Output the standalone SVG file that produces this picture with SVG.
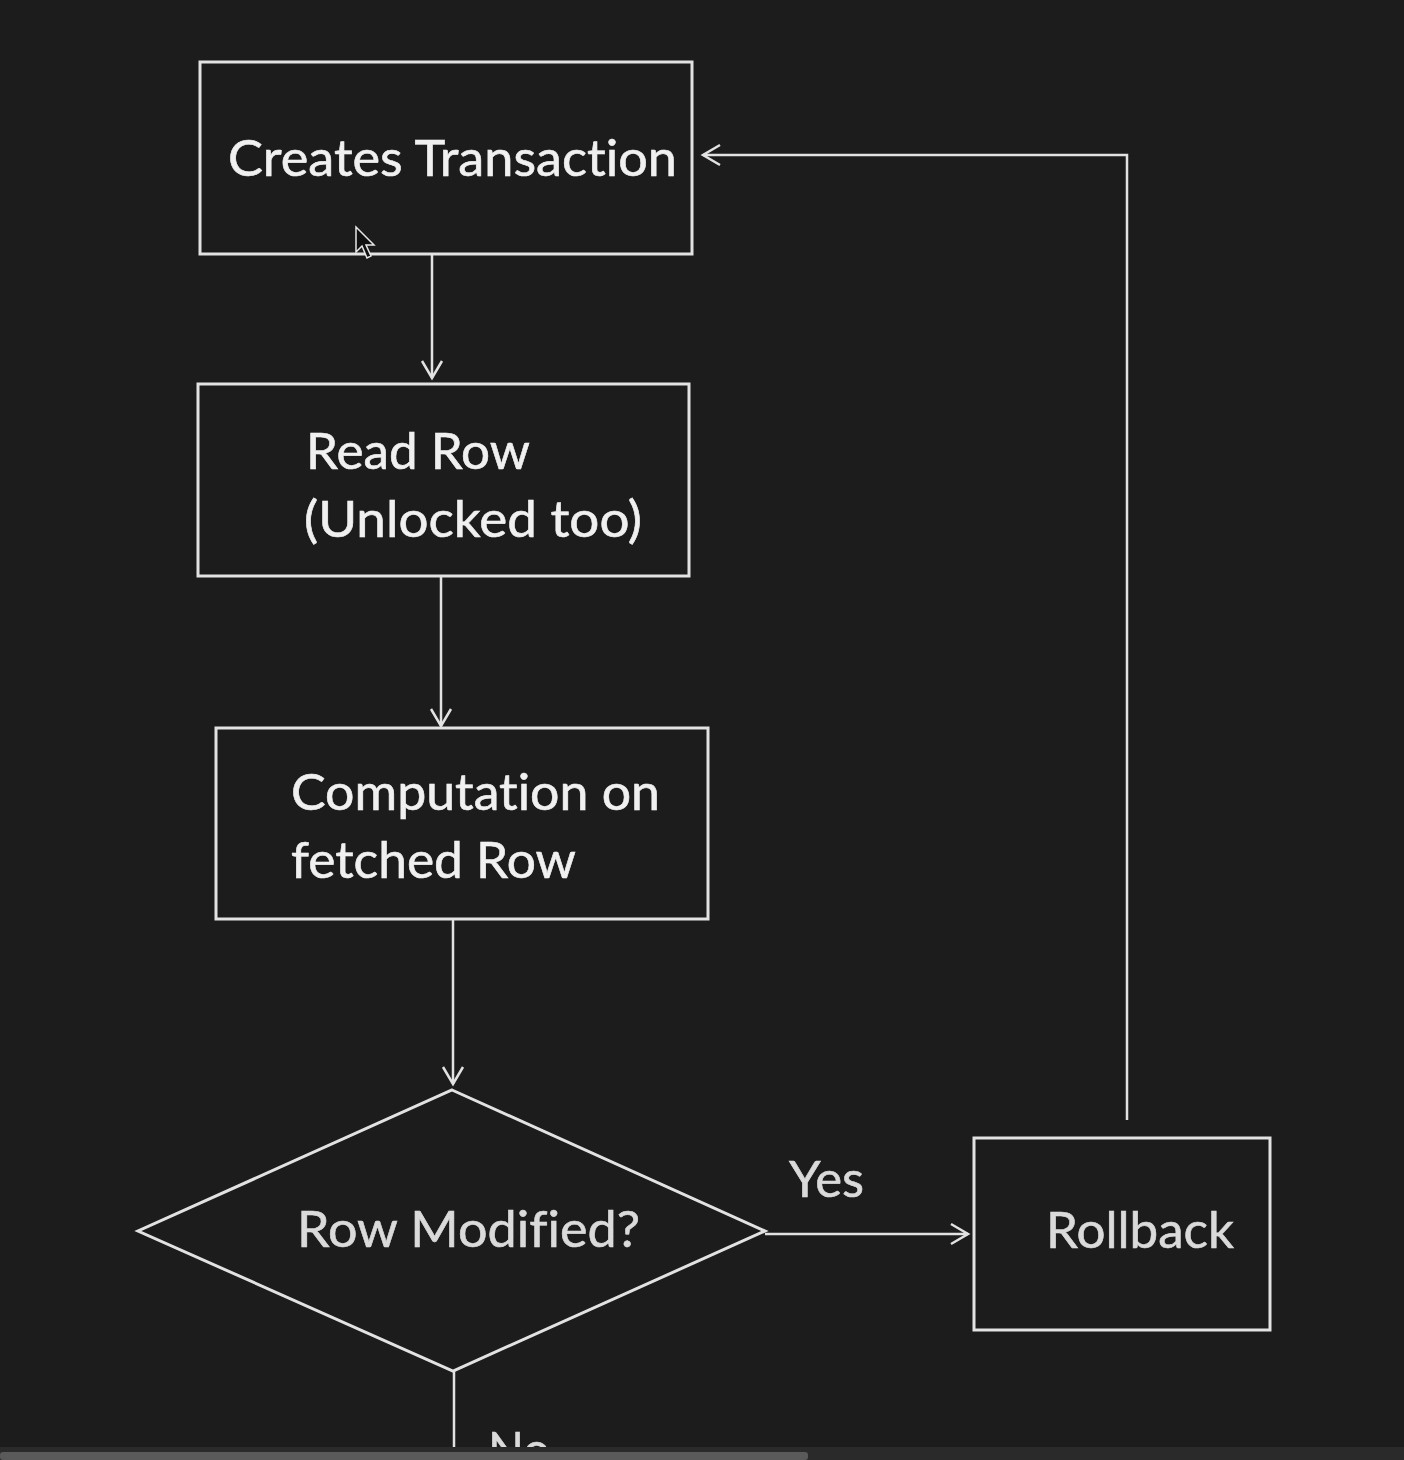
<svg xmlns="http://www.w3.org/2000/svg" width="1404" height="1460" viewBox="0 0 1404 1460">
<defs>
<style>
.box{fill:none;stroke:#e2e2e2;stroke-width:3}
.conn{fill:none;stroke:#e2e2e2;stroke-width:2.5}
.t{font-family:Lato,"Open Sans","Liberation Sans",sans-serif;font-size:51px;fill:#f0f0f0;stroke:#f0f0f0;stroke-width:0.6;font-variant-ligatures:none;font-feature-settings:"liga" 0,"clig" 0}
.g{fill:#dadada;stroke:#dadada}
</style>
<marker id="ah" markerUnits="userSpaceOnUse" markerWidth="24" markerHeight="24" viewBox="-18 -12 22 24" refX="0" refY="0" orient="auto">
<path d="M-17,-10 L0,0 L-17,10" fill="none" stroke="#e2e2e2" stroke-width="2.5"/>
</marker>
</defs>
<rect width="1404" height="1460" fill="#1c1c1c"/>
<g id="connectors">
<line class="conn" x1="432" y1="255" x2="432" y2="378" marker-end="url(#ah)"/>
<line class="conn" x1="441" y1="577" x2="441" y2="726" marker-end="url(#ah)"/>
<line class="conn" x1="453" y1="920" x2="453" y2="1084" marker-end="url(#ah)"/>
<line class="conn" x1="765" y1="1234" x2="968" y2="1234" marker-end="url(#ah)"/>
<polyline class="conn" points="1127,1120 1127,155 703,155" marker-end="url(#ah)"/>
<line class="conn" x1="454" y1="1371" x2="454" y2="1448"/>
<text class="t g" x="789" y="1197" textLength="75" lengthAdjust="spacingAndGlyphs">Yes</text>
<text class="t g" x="488" y="1468" textLength="62" lengthAdjust="spacingAndGlyphs">No</text>
</g>
<g id="node-create">
<rect class="box" x="200" y="62" width="492" height="192"/>
<text class="t" x="228" y="176" textLength="449" lengthAdjust="spacingAndGlyphs">Creates Transaction</text>
</g>
<g id="node-read">
<rect class="box" x="198" y="384" width="491" height="192"/>
<text class="t" x="306" y="469" textLength="224" lengthAdjust="spacingAndGlyphs">Read Row</text>
<text class="t" x="304" y="537" textLength="338" lengthAdjust="spacingAndGlyphs">(Unlocked too)</text>
</g>
<g id="node-compute">
<rect class="box" x="216" y="728" width="492" height="191"/>
<text class="t" x="291" y="810" textLength="369" lengthAdjust="spacingAndGlyphs">Computation on</text>
<text class="t" x="291" y="878" textLength="285" lengthAdjust="spacingAndGlyphs">fetched Row</text>
</g>
<g id="node-decision">
<polygon class="box" points="452,1090 765,1231 453,1371 138,1231"/>
<text class="t g" x="297" y="1247" textLength="343" lengthAdjust="spacingAndGlyphs">Row Modified?</text>
</g>
<g id="node-rollback">
<rect class="box" x="974" y="1138" width="296" height="192"/>
<text class="t g" x="1046" y="1248" textLength="188" lengthAdjust="spacingAndGlyphs">Rollback</text>
</g>
<path d="M356,227 L356,252 L362,246 L367,258 L371,256 L366,245 L374,245 Z" fill="#111" stroke="#e8e8e8" stroke-width="1.5"/>
<rect x="0" y="1447" width="1404" height="13" fill="#2a2a2a"/>
<rect x="0" y="1452" width="808" height="8" rx="3" fill="#5a5a5a"/>
</svg>
